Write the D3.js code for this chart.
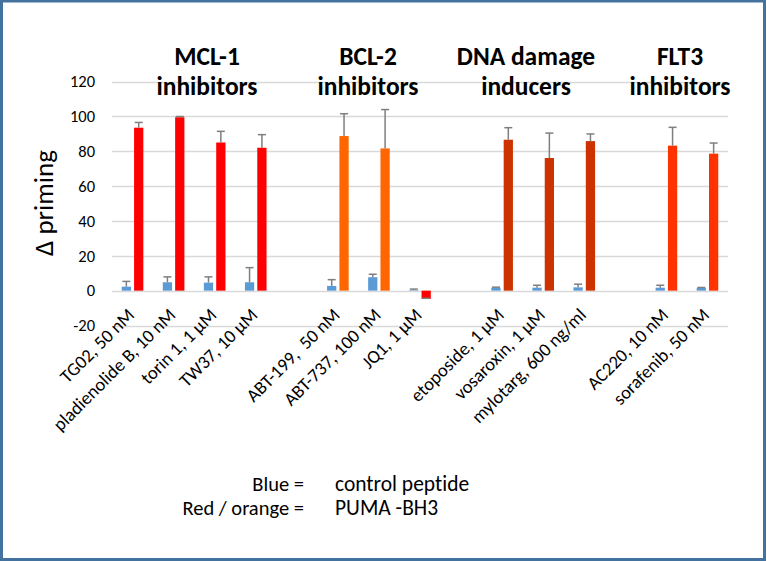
<!DOCTYPE html>
<html><head><meta charset="utf-8">
<script src="https://cdn.jsdelivr.net/npm/d3@7"></script>
<style>
body{margin:0;background:#fff}
svg{display:block}
text{font-family:Carlito, Calibri, Lato, "Open Sans", sans-serif; fill:#000; font-variant-ligatures:none; font-feature-settings:"liga" 0}
</style>
</head><body>
<svg id="chart" width="767" height="561"></svg>
<script>
// ---------- data ----------
const categories = ["TG02, 50 nM","pladienolide B, 10 nM","torin 1, 1 µM","TW37, 10 µM","gap1",
  "ABT-199,  50 nM","ABT-737, 100 nM","JQ1, 1 µM","gap2",
  "etoposide, 1 µM","vosaroxin, 1 µM","mylotarg, 600 ng/ml","gap3",
  "AC220, 10 nM","sorafenib, 50 nM"];
const groupTitles = [["MCL-1","inhibitors"],["BCL-2","inhibitors"],["DNA damage","inducers"],["FLT3","inhibitors"]];
const controlValues = [2.3,4.8,4.6,4.8,null,2.7,7.7,0.3,null,1.7,1.7,1.9,null,1.7,1.5];
const controlErrors = [3.0,3.1,3.3,8.4,null,3.6,1.7,0.6,null,0.3,1.4,1.8,null,1.4,0.3];
const pumaValues    = [93.5,99.5,85.0,82.0,null,88.7,81.6,-4.8,null,86.6,76.1,85.8,null,83.2,78.6];
const pumaErrors    = [3.0,0.4,6.4,7.5,null,12.8,22.3,0.4,null,6.9,14.3,4.1,null,10.5,6.1];
const yTicks = [-20,0,20,40,60,80,100,120];
const legendRows = [["Blue =","control peptide"],["Red / orange =","PUMA -BH3"]];

// ---------- styles ----------
const pumaColor = ["#FF0000","#FF0000","#FF0000","#FF0000",null,"#FF6600","#FF6600","#FF0000",null,
  "#CC3300","#CC3300","#CC3300",null,"#FF3300","#FF3300"];
const blue = "#5B9BD5";
const titleX = [207, 368, 526, 680];

const svg = d3.select("#chart");
svg.append("rect").attr("x",1.5).attr("y",1).attr("width",763).attr("height",558.5)
  .attr("fill","#fff").attr("stroke","#44729E").attr("stroke-width",3);

const x = d3.scaleBand().domain(categories).range([112,728]).paddingInner(0).paddingOuter(0);
const y = d3.scaleLinear().domain([-20,120]).range([325.5,81.5]);
const sub = d3.scaleBand().domain(["control","puma"]).range([-10.8,10.8]).paddingInner(0.25);

// grid
svg.append("g").selectAll("line").data(yTicks).join("line")
  .attr("x1",112).attr("x2",728).attr("y1",d=>Math.round(y(d))+0.5).attr("y2",d=>Math.round(y(d))+0.5)
  .attr("stroke","#D9D9D9").attr("stroke-width",1.3);

// y axis labels
const yAxis = d3.axisLeft(y).tickValues(yTicks).tickSize(0).tickPadding(0).tickFormat(d=>String(d));
const ga = svg.append("g").attr("transform","translate(95,0)").call(yAxis);
ga.select(".domain").remove();
ga.selectAll("text").attr("font-size",16.5).style("font-family","Carlito, Calibri, Lato, sans-serif").attr("fill","#000");

// axis title
svg.append("text").attr("transform","translate(53,203) rotate(-90)").attr("text-anchor","middle")
  .attr("font-size",27).text("Δ priming");

const cx = c => x(c) + x.bandwidth()/2;

// bars
const series = [
  {key:"control", values:controlValues, errors:controlErrors, color:()=>blue},
  {key:"puma", values:pumaValues, errors:pumaErrors, color:i=>pumaColor[i]}
];
series.forEach(s=>{
  const g = svg.append("g");
  categories.forEach((c,i)=>{
    const v = s.values[i]; if (v==null) return;
    const x0 = cx(c) + sub(s.key);
    g.append("rect").attr("x",x0).attr("width",sub.bandwidth())
      .attr("y",y(Math.max(0,v))).attr("height",Math.abs(y(v)-y(0)))
      .attr("fill",s.color(i));
  });
});
// error bars (plus direction)
series.forEach(s=>{
  const g = svg.append("g").attr("stroke","#7F7F7F").attr("stroke-width",1.5);
  categories.forEach((c,i)=>{
    const v = s.values[i]; if (v==null) return;
    const e = s.errors[i];
    const xm = cx(c) + sub(s.key) + sub.bandwidth()/2;
    g.append("line").attr("x1",xm).attr("x2",xm).attr("y1",y(v)).attr("y2",y(v+e));
    g.append("line").attr("x1",xm-4).attr("x2",xm+4).attr("y1",y(v+e)).attr("y2",y(v+e));
  });
});

// category labels
svg.append("g").selectAll("text").data(categories.filter(c=>!c.startsWith("gap"))).join("text")
  .attr("transform",c=>`translate(${cx(c)+3},316) rotate(-45)`)
  .attr("text-anchor","end").attr("font-size",18.5).style("white-space","pre").text(c=>c);

// group titles
groupTitles.forEach((t,gi)=>{
  t.forEach((line,li)=>{
    svg.append("text").attr("x",titleX[gi]).attr("y",65+li*30).attr("text-anchor","middle")
      .attr("font-size",25.5).attr("font-weight","bold").text(line);
  });
});

// legend
legendRows.forEach((r,i)=>{
  svg.append("text").attr("x",304).attr("y",491+i*24).attr("text-anchor","end").attr("font-size",20.5).text(r[0]);
  svg.append("text").attr("x",335).attr("y",491+i*24).attr("font-size",21.5).text(r[1]);
});
</script>
</body></html>
